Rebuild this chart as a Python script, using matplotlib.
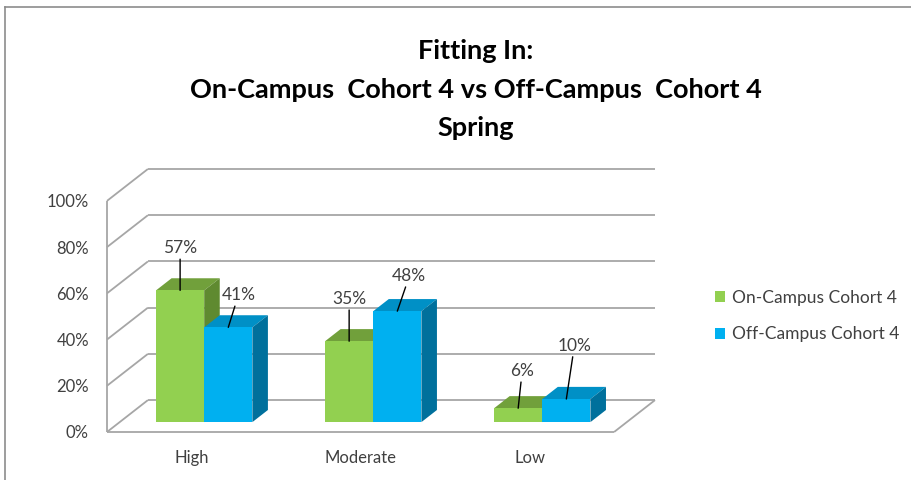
import matplotlib
matplotlib.use("Agg")
import matplotlib.pyplot as plt
from matplotlib.patches import Polygon, Patch
from matplotlib.lines import Line2D

# ---- data ----
categories = ["High", "Moderate", "Low"]
series_names = ["On-Campus Cohort 4", "Off-Campus Cohort 4"]
on_campus = [57, 35, 6]
off_campus = [41, 48, 10]
y_ticks = [0, 20, 40, 60, 80, 100]
y_tick_labels = ["0%", "20%", "40%", "60%", "80%", "100%"]
title_lines = ["Fitting In:", "On-Campus  Cohort 4 vs Off-Campus  Cohort 4", "Spring"]

# ---- styles ----
front_cols = ["#92D050", "#00B0F0"]
top_cols = ["#71A03B", "#0090C6"]
side_cols = ["#5F8A30", "#00709C"]
grid_col = "#A6A6A6"
FONT = ["Lato", "DejaVu Sans"]
plt.rcParams["font.family"] = FONT

W, H = 911, 480
fig = plt.figure(figsize=(W / 100, H / 100), dpi=100)
# axes box in pixels: left 107, right 655, top 169, bottom 432
ax = fig.add_axes([107 / W, (H - 432) / H, (655 - 107) / W, (432 - 169) / H])
DX = 0.242     # full depth offset in category units
DY = 13.8      # full depth offset in value units
ax.set_xlim(-0.5, len(categories) - 0.5 + DX)
ax.set_ylim(0, 100 + DY)
for s in ax.spines.values():
    s.set_visible(False)

# ---- 3D-like walls ----
x0, x1 = -0.5, len(categories) - 0.5
lk = dict(color=grid_col, lw=1.3, clip_on=False, zorder=1, solid_capstyle="butt")
for g in y_ticks:
    ax.add_line(Line2D([x0, x0 + DX], [g, g + DY], **lk))
    ax.add_line(Line2D([x0 + DX, x1 + DX], [g + DY, g + DY], **lk))
ax.add_line(Line2D([x0, x0], [0, 100], **lk))
ax.add_line(Line2D([x0, x1], [0, 0], **lk))
ax.add_line(Line2D([x1, x1 + DX], [0, DY], **lk))

# ---- bars ----
f0 = 0.31   # depth fraction of bar front
fd = 0.38   # bar depth fraction
bw = 0.285
bdx, bdy = DX * fd, DY * fd
sx, sy = DX * f0, DY * f0

label_offsets = [  # pixel offsets of data labels from bar top (dx, dy)
    [(0, -42), (10, -32)],
    [(0, -42), (12, -35)],
    [(4, -37), (8, -53)],
]

for si, vals in enumerate([on_campus, off_campus]):
    for ci, v in enumerate(vals):
        left = ci - bw + si * bw + sx
        right = left + bw
        bot = sy
        top = sy + v
        z = 3 + si * 2 + ci * 0.01
        ax.bar(left, v, width=bw, bottom=bot, align="edge",
               color=front_cols[si], edgecolor="none", zorder=z + 0.5)
        ax.add_patch(Polygon([(left, top), (right, top), (right + bdx, top + bdy),
                              (left + bdx, top + bdy)], closed=True,
                             facecolor=top_cols[si], edgecolor="none", zorder=z))
        ax.add_patch(Polygon([(right, bot), (right + bdx, bot + bdy),
                              (right + bdx, top + bdy), (right, top)], closed=True,
                             facecolor=side_cols[si], edgecolor="none", zorder=z))
        dx, dy = label_offsets[ci][si]
        ax.annotate(f"{v}%", xy=((left + right) / 2, top),
                    xytext=(dx * 0.72, -dy * 0.72), textcoords="offset points",
                    ha="center", va="center", fontsize=12.5, color="#404040",
                    zorder=10,
                    arrowprops=dict(arrowstyle="-", color="black", lw=1,
                                    shrinkA=0, shrinkB=0))

# ---- ticks ----
ax.set_yticks(y_ticks)
ax.set_yticklabels(y_tick_labels, fontsize=12, color="#404040")
ax.set_xticks(range(len(categories)))
ax.set_xticklabels(categories, fontsize=12, color="#404040")
ax.tick_params(axis="y", length=0, pad=13)
ax.tick_params(axis="x", length=0, pad=13)

# ---- title ----
for i, line in enumerate(title_lines):
    fig.text(476 / W, 1 - (51 + 38.5 * i) / H, line, ha="center", va="center",
             fontsize=19.5, fontweight="bold", color="black")

# ---- legend ----
handles = [Patch(facecolor=c, edgecolor="none") for c in front_cols]
fig.legend(handles, series_names, loc="upper left",
           bbox_to_anchor=(699 / W, 1 - 274 / H), frameon=False,
           fontsize=12.5, handlelength=0.6, handleheight=0.6,
           handletextpad=0.4, labelspacing=1.2, labelcolor="#404040")

# ---- border ----
fig.add_artist(Line2D([5 / W, 1], [1 - 7 / H, 1 - 7 / H], color="#8C8C8C", lw=1.2,
                      transform=fig.transFigure))
fig.add_artist(Line2D([5 / W, 5 / W], [0, 1 - 7 / H], color="#8C8C8C", lw=1.2,
                      transform=fig.transFigure))

fig.savefig("out.png", dpi=100, facecolor="white")
